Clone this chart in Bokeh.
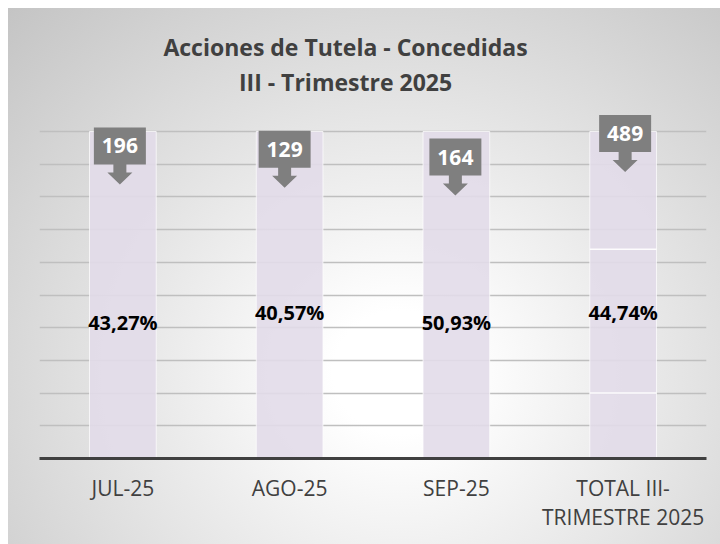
from bokeh.plotting import figure
from bokeh.models import Range1d, FixedTicker, ColumnDataSource
from bokeh.core.properties import value
from bokeh.embed import file_html
from bokeh.resources import INLINE

# ---- data ----
categories = ["JUL-25", "AGO-25", "SEP-25", "TOTAL III-\nTRIMESTRE 2025"]
concedidas = [196, 129, 164, 489]
porcentaje_labels = ["43,27%", "40,57%", "50,93%", "44,74%"]
bar_share = [1.0, 1.0, 1.0, 1.0]          # every bar is 100 %
total_breaks = [0.20, 0.64]                # white separators inside the TOTAL bar
title_lines = ["Acciones de Tutela - Concedidas", "III - Trimestre 2025"]

# ---- layout (label anchors, in axis units) ----
pct_label_y = [0.416, 0.446, 0.416, 0.446]
callout_tip_y = [0.838, 0.828, 0.804, 0.876]
callout_dx_px = [-3, -5, -1, 2]
title_y = [1.259, 1.152]       # baselines of the two title lines
title_x_px = 306               # title centre, px from left of plot area

FONT = "Open Sans"
W, H = 712, 536
FRAME_W, FRAME_H = 667, 450
PX_Y = 1 / 327
Y_END = FRAME_H * PX_Y
PX_X = len(categories) / FRAME_W

xc = [i + 0.5 for i in range(len(categories))]

p = figure(width=W, height=H, output_backend="svg", toolbar_location=None,
           x_range=Range1d(0, len(categories)), y_range=Range1d(0, Y_END),
           min_border_left=31, min_border_right=14, min_border_top=0,
           min_border_bottom=H - FRAME_H)
p.styles = {"background": "radial-gradient(ellipse farthest-corner at 55% 68%, #ffffff 0%, #ffffff 12%, #c4c4c4 100%)",
            "margin-left": "8px", "margin-top": "8px"}
p.border_fill_color = None
p.background_fill_color = None
p.outline_line_color = None

# bars
src = ColumnDataSource(dict(x=xc, top=bar_share))
p.vbar(x="x", top="top", bottom=0, width=0.4, source=src,
       fill_color="#e2dce9", fill_alpha=0.9, line_color="white", line_alpha=0.7, line_width=1)
# separators in TOTAL bar
p.segment(x0=[xc[-1] - 0.2] * len(total_breaks), x1=[xc[-1] + 0.2] * len(total_breaks),
          y0=total_breaks, y1=total_breaks, line_color="white", line_width=1.5, line_alpha=0.9)

# percentage labels
p.text(x=xc, y=pct_label_y, text=porcentaje_labels, text_align="center", text_baseline="middle",
       text_font=value(FONT), text_font_style="bold", text_font_size="20px", text_color="black")

# callouts
xs, ys, num_x, num_y = [], [], [], []
for i, (tip, dx) in enumerate(zip(callout_tip_y, callout_dx_px)):
    cx = xc[i] + dx * PX_X
    head_top = tip + 12 * PX_Y
    box_bot = head_top + 8 * PX_Y
    box_top = box_bot + 37 * PX_Y
    bw, sw, hw = 26 * PX_X, 6.5 * PX_X, 12.5 * PX_X
    xs.append([cx - bw, cx + bw, cx + bw, cx + sw, cx + sw, cx + hw, cx, cx - hw, cx - sw, cx - sw, cx - bw])
    ys.append([box_top, box_top, box_bot, box_bot, head_top, head_top, tip, head_top, head_top, box_bot, box_bot])
    num_x.append(cx)
    num_y.append((box_top + box_bot) / 2)
p.patches(xs, ys, fill_color="#7f7f7f", line_color=None)
p.text(x=num_x, y=num_y, text=[str(v) for v in concedidas], text_align="center", text_baseline="middle",
       text_font=value(FONT), text_font_style="bold", text_font_size="21px", text_color="white")

# title
p.text(x=[title_x_px * PX_X] * len(title_lines), y=title_y, text=title_lines,
       text_align="center", text_baseline="alphabetic",
       text_font=value(FONT), text_font_style="bold", text_font_size="23px", text_color="#404040")

# axes & grid
p.yaxis.visible = False
p.ygrid.ticker = FixedTicker(ticks=[round(0.1 * k, 1) for k in range(1, 11)])
p.ygrid.grid_line_color = "#bfbfbf"
p.ygrid.grid_line_width = 1.3
p.xgrid.visible = False

xa = p.xaxis[0]
xa.ticker = FixedTicker(ticks=xc)
xa.major_label_overrides = {x: c for x, c in zip(xc, categories)}
xa.axis_line_color = "#404040"
xa.axis_line_width = 3
xa.major_tick_line_color = None
xa.minor_tick_line_color = None
xa.major_label_standoff = 9
xa.major_label_text_font = FONT
xa.major_label_text_font_size = "21px"
xa.major_label_text_line_height = 1.05
xa.major_label_text_color = "#404040"

open("out.html", "w").write(file_html(p, INLINE))
